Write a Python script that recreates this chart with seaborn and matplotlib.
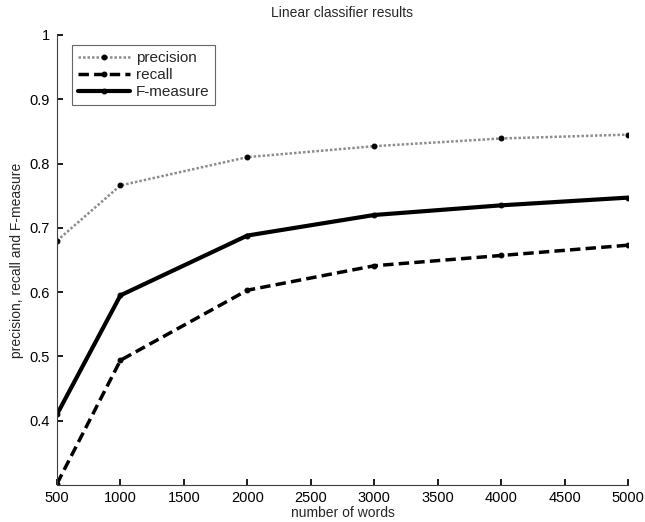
import matplotlib
matplotlib.use("Agg")
import matplotlib.pyplot as plt
import seaborn as sns
import pandas as pd

words = [500, 1000, 2000, 3000, 4000, 5000]
precision = [0.680, 0.766, 0.810, 0.827, 0.839, 0.845]
recall = [0.302, 0.494, 0.603, 0.641, 0.657, 0.673]
f_measure = [0.410, 0.595, 0.688, 0.720, 0.735, 0.747]

sns.set_theme(style="white")
plt.rcParams["font.family"] = ["Liberation Sans", "DejaVu Sans"]

df = pd.DataFrame({"words": words, "precision": precision,
                   "recall": recall, "F-measure": f_measure})

fig = plt.figure(figsize=(6.45, 5.22), dpi=100)
ax = fig.add_axes([0.0884, 0.0709, 0.8852, 0.8621])

styles = {
    "precision": dict(color="#8c8c8c", linestyle=(0, (1, 0.8)), linewidth=1.8),
    "recall": dict(color="black", linestyle=(0, (3, 1.5)), linewidth=2.5),
    "F-measure": dict(color="black", linestyle="-", linewidth=3.0),
}
for name, st in styles.items():
    sns.lineplot(data=df, x="words", y=name, ax=ax, label=name,
                 marker="o", markersize=3.5, markerfacecolor="black",
                 markeredgecolor="black", **st)

ax.set_xlim(500, 5000)
ax.set_ylim(0.3, 1.0)
ax.set_xticks(range(500, 5001, 500))
ax.set_yticks([0.4, 0.5, 0.6, 0.7, 0.8, 0.9, 1.0])
ax.set_yticklabels(["0.4", "0.5", "0.6", "0.7", "0.8", "0.9", "1"])
ax.tick_params(direction="in", length=4, labelsize=10.5, colors="black",
               left=True, bottom=True, pad=5)
ax.tick_params(axis="x", pad=4)
for s in ["top", "right"]:
    ax.spines[s].set_visible(False)
for s in ["left", "bottom"]:
    ax.spines[s].set_color("#404040")
    ax.spines[s].set_linewidth(0.8)

ax.set_xlabel("number of words", fontsize=10, labelpad=1)
ax.set_ylabel("precision, recall and F-measure", fontsize=10, labelpad=4)
ax.set_title("Linear classifier results", fontsize=10, pad=13)

leg = ax.legend(loc="upper left", bbox_to_anchor=(0.012, 0.995), fontsize=11,
                frameon=True, fancybox=False, handlelength=3.4,
                borderpad=0.4, labelspacing=0.2, handletextpad=0.4)
leg.get_frame().set_edgecolor("#404040")
leg.get_frame().set_linewidth(0.8)

fig.savefig("out.png", dpi=100)
